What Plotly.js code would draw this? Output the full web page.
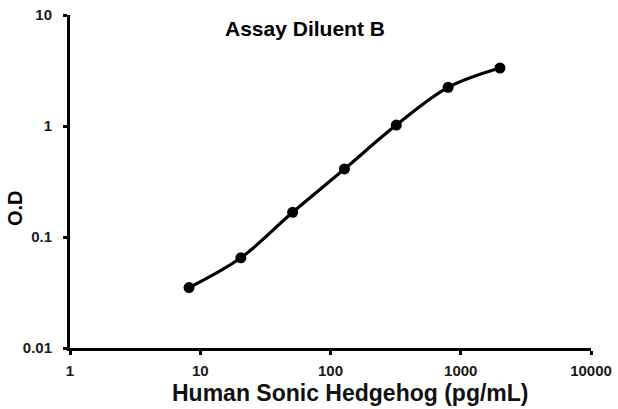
<!DOCTYPE html>
<html>
<head>
<meta charset="utf-8">
<script src="https://cdn.plot.ly/plotly-3.0.1.min.js"></script>
<style>html,body{margin:0;padding:0;background:#fff;}#chart{width:618px;height:409px;}</style>
</head>
<body>
<div id="chart"></div>
<script>
const concentration = [8.2, 20.5, 51.2, 128, 320, 800, 2000];
const od = [0.035, 0.065, 0.167, 0.41, 1.02, 2.23, 3.33];
const xTicks = [1, 10, 100, 1000, 10000];
const xTickText = ["1", "10", "100", "1000", "10000"];
const yTicks = [0.01, 0.1, 1, 10];
const yTickText = ["0.01", "0.1", "1", "10"];
const chartTitle = "Assay Diluent B";
const xTitle = "Human Sonic Hedgehog (pg/mL)";
const yTitle = "O.D";

const fontFam = '"Liberation Sans", Arial, sans-serif';
const bold = s => '<b>' + s + '</b>';

const trace = {
  x: concentration, y: od, type: 'scatter', mode: 'lines+markers',
  line: {color: '#000', width: 3.2, shape: 'spline', smoothing: 1},
  marker: {color: '#000', size: 11},
  hoverinfo: 'skip'
};

const layout = {
  width: 618, height: 409,
  margin: {l: 70, r: 27, t: 15, b: 61},
  paper_bgcolor: '#fff', plot_bgcolor: '#fff',
  showlegend: false,
  font: {family: fontFam, color: '#111'},
  xaxis: {
    type: 'log', range: [0, 4], tickmode: 'array', tickvals: xTicks, ticktext: xTickText.map(bold),
    showline: true, linecolor: '#000', linewidth: 3, ticks: 'outside', ticklen: 4, tickwidth: 3, tickcolor: '#000',
    ticklabelstandoff: 3,
    showgrid: false, zeroline: false, tickfont: {size: 15, family: fontFam, color: '#1a1a1a'}
  },
  yaxis: {
    type: 'log', range: [-2, 1], tickmode: 'array', tickvals: yTicks, ticktext: yTickText.map(bold),
    showline: true, linecolor: '#000', linewidth: 3, ticks: 'outside', ticklen: 4, tickwidth: 3, tickcolor: '#000',
    ticklabelstandoff: 8,
    showgrid: false, zeroline: false, tickfont: {size: 15, family: fontFam, color: '#1a1a1a'}
  },
  annotations: [
    {text: bold(chartTitle), xref: 'paper', yref: 'paper', x: (305 - 70) / 521, y: 1 - (28 - 15) / 333,
     xanchor: 'center', yanchor: 'middle', showarrow: false, font: {size: 21, family: fontFam, color: '#000'}},
    {text: bold(xTitle), xref: 'paper', yref: 'paper', x: (350 - 70) / 521, y: -(393 - 348) / 333,
     xanchor: 'center', yanchor: 'middle', showarrow: false, font: {size: 23, family: fontFam, color: '#111'}},
    {text: bold(yTitle), xref: 'paper', yref: 'paper', x: -(70 - 15) / 521, y: (348 - 208) / 333,
     xanchor: 'center', yanchor: 'middle', textangle: -90, showarrow: false, font: {size: 20, family: fontFam, color: '#000'}}
  ]
};

Plotly.newPlot('chart', [trace], layout, {staticPlot: true, displayModeBar: false});
</script>
</body>
</html>
